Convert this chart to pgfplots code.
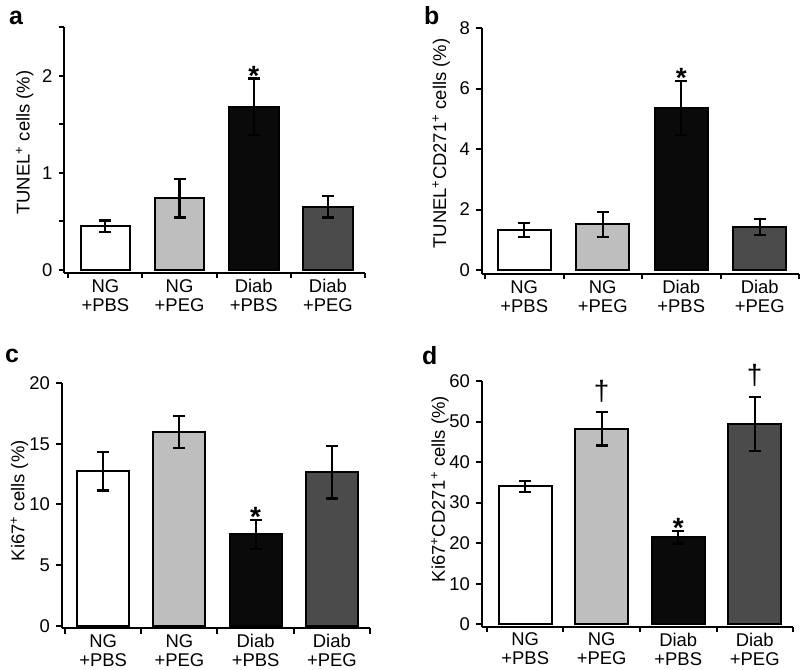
\documentclass[border=0pt]{standalone}
\usepackage{fontspec}
\setmainfont{Liberation Sans}
\usepackage{pgfplots}
\pgfplotsset{compat=1.18}
\definecolor{lgray}{HTML}{BEBEBE}
\definecolor{dgray}{HTML}{4B4B4B}
\definecolor{bblack}{HTML}{0A0A0A}
\newcommand{\lblfont}{\fontsize{18.5}{19}\selectfont}
\pgfplotsset{
  every tick label/.append style={font=\lblfont},
  every axis label/.append style={font=\lblfont},
  panel/.style={
    scale only axis, clip=false,
    font=\lblfont,
    axis lines=left, axis line style={-, line width=2bp, black},
    tick style={line width=2bp, black}, tick align=outside,
    major tick length=5.5bp,
    xtick={-0.5,0.5,1.5,2.5,3.5}, xticklabels={},
    extra x ticks={0,1,2,3},
    extra x tick labels={{NG\\+PBS},{NG\\+PEG},{Diab\\+PBS},{Diab\\+PEG}},
    extra x tick style={major tick length=0pt, tick label style={align=center, font=\lblfont}},
    xmax=3.5,
    tick label style={font=\lblfont},
    ylabel style={font=\lblfont},
    /pgf/number format/assume math mode=true,
  },
  mybar/.style={ybar, bar shift=0pt, draw=black, line width=2bp,
    error bars/.cd, y dir=both, y explicit,
    error bar style={line width=2.2bp, black},
    error mark options={rotate=90, mark size=6bp, line width=2.2bp, black}},
}
\begin{document}
\lblfont
\begin{tikzpicture}[font=\lblfont]
\node[anchor=base west, inner sep=0, font=\bfseries\fontsize{25}{25}\selectfont] at (9bp,645bp) {a};
\node[anchor=base west, inner sep=0, font=\bfseries\fontsize{25}{25}\selectfont] at (424bp,645bp) {b};
\node[anchor=base west, inner sep=0, font=\bfseries\fontsize{25}{25}\selectfont] at (5bp,307bp) {c};
\node[anchor=base west, inner sep=0, font=\bfseries\fontsize{25}{25}\selectfont] at (422bp,305bp) {d};

% panel a
\begin{axis}[panel, at={(64.3bp,397bp)}, anchor=south west, width=300.7bp, height=246bp,
  xmin=-0.554, ymin=-0.03, ymax=2.5,
  ytick={0,0.5,1,1.5,2,2.5}, yticklabels={0,,1,,2,},
  ylabel={TUNEL\textsuperscript{+} cells (\%)},
  ylabel style={at={(axis description cs:-0.132,0.53)}, anchor=center}]
\addplot[fill=white, bar width=0.67, mybar] coordinates {(0,0.45) +- (0,0.06)};
\addplot[fill=lgray, bar width=0.67, mybar] coordinates {(1,0.74) +- (0,0.20)};
\addplot[fill=bblack, bar width=0.67, mybar] coordinates {(2,1.68) +- (0,0.29)};
\addplot[fill=dgray, bar width=0.67, mybar] coordinates {(3,0.65) +- (0,0.11)};
\node[anchor=base, inner sep=0, yshift=-7bp, font=\bfseries\fontsize{28}{28}\selectfont] at (axis cs:2,1.97) {*};
\end{axis}

% panel b
\begin{axis}[panel, at={(481.7bp,396bp)}, anchor=south west, width=317.3bp, height=246bp,
  xmin=-0.542, ymin=-0.13, ymax=8,
  ytick={0,2,4,6,8},
  ylabel={TUNEL\textsuperscript{+}CD271\textsuperscript{+} cells (\%)},
  ylabel style={at={(axis description cs:-0.128,0.53)}, anchor=center}]
\addplot[fill=white, bar width=0.675, mybar] coordinates {(0,1.32) +- (0,0.24)};
\addplot[fill=lgray, bar width=0.675, mybar] coordinates {(1,1.51) +- (0,0.42)};
\addplot[fill=bblack, bar width=0.675, mybar] coordinates {(2,5.36) +- (0,0.90)};
\addplot[fill=dgray, bar width=0.675, mybar] coordinates {(3,1.43) +- (0,0.27)};
\node[anchor=base, inner sep=0, yshift=-7bp, font=\bfseries\fontsize{28}{28}\selectfont] at (axis cs:2,6.26) {*};
\end{axis}

% panel c
\begin{axis}[panel, at={(61.7bp,42bp)}, anchor=south west, width=308.3bp, height=244.7bp,
  xmin=-0.543, ymin=-0.19, ymax=20,
  ytick={0,5,10,15,20},
  ylabel={Ki67\textsuperscript{+} cells (\%)},
  ylabel style={at={(axis description cs:-0.137,0.52)}, anchor=center}]
\addplot[fill=white, bar width=0.68, mybar] coordinates {(0,12.75) +- (0,1.6)};
\addplot[fill=lgray, bar width=0.68, mybar] coordinates {(1,15.97) +- (0,1.3)};
\addplot[fill=bblack, bar width=0.68, mybar] coordinates {(2,7.55) +- (0,1.2)};
\addplot[fill=dgray, bar width=0.68, mybar] coordinates {(3,12.65) +- (0,2.15)};
\node[anchor=base, inner sep=0, yshift=-7bp, font=\bfseries\fontsize{28}{28}\selectfont] at (axis cs:2,8.75) {*};
\end{axis}

% panel d
\begin{axis}[panel, at={(481.7bp,43.3bp)}, anchor=south west, width=311.3bp, height=245.7bp,
  xmin=-0.569, ymin=-0.6, ymax=60,
  ytick={0,10,20,30,40,50,60},
  ylabel={Ki67\textsuperscript{+}CD271\textsuperscript{+} cells (\%)},
  ylabel style={at={(axis description cs:-0.134,0.56)}, anchor=center}]
\addplot[fill=white, bar width=0.69, mybar] coordinates {(0,34.0) +- (0,1.4)};
\addplot[fill=lgray, bar width=0.69, mybar] coordinates {(1,48.2) +- (0,4.1)};
\addplot[fill=bblack, bar width=0.69, mybar] coordinates {(2,21.5) +- (0,1.6)};
\addplot[fill=dgray, bar width=0.69, mybar] coordinates {(3,49.4) +- (0,6.7)};
\node[anchor=base, inner sep=0, yshift=-7bp, font=\bfseries\fontsize{28}{28}\selectfont] at (axis cs:2,23.1) {*};
\node[anchor=base, inner sep=0, yshift=12bp, font=\fontsize{28}{28}\selectfont] at (axis cs:1,52.3) {†};
\node[anchor=base, inner sep=0, yshift=12bp, font=\fontsize{28}{28}\selectfont] at (axis cs:3,56.1) {†};
\end{axis}
\pgfresetboundingbox
\useasboundingbox (0bp,0bp) rectangle (800bp,670bp);
\end{tikzpicture}
\end{document}
